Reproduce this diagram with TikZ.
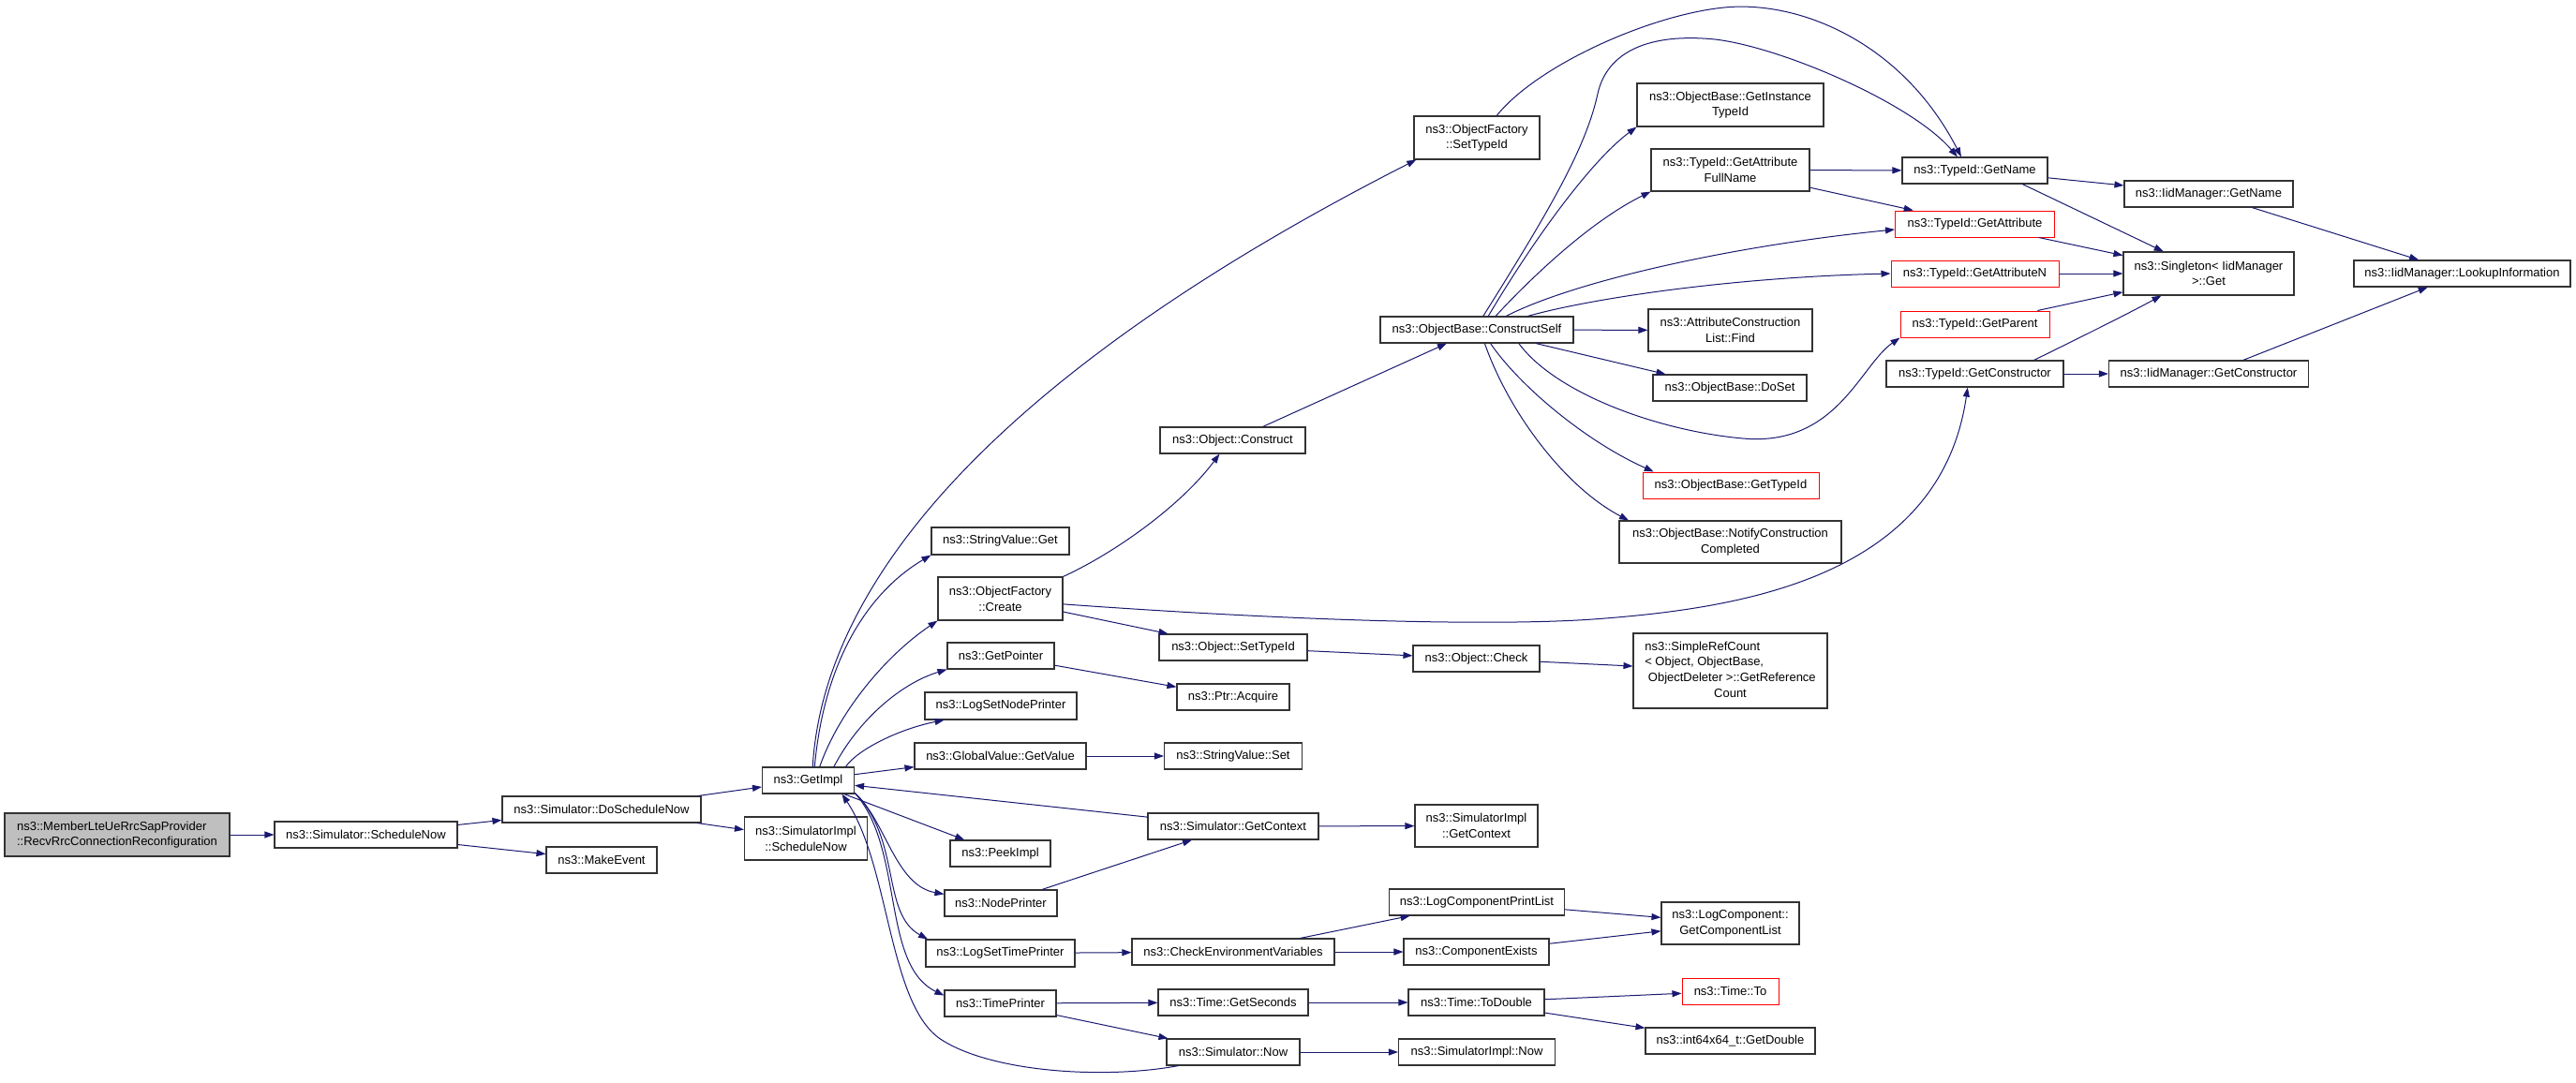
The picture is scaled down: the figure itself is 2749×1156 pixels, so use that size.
\documentclass[tikz,border=0pt]{standalone}
\usepackage{fontspec}
\setmainfont{Liberation Sans}
\usetikzlibrary{arrows.meta}
\definecolor{edgeBlue}{RGB}{25,25,112}
\definecolor{rootGray}{RGB}{191,191,191}
\definecolor{frameRed}{RGB}{255,0,0}
\newcommand{\fnfont}{\fontsize{13}{16.7}\selectfont}

\begin{document}
\begin{tikzpicture}[x=1pt,y=-1pt,
    fn/.style={draw=black!80,line width=1.1pt,fill=white,inner sep=0pt,
               minimum height=28pt,font=\fnfont,align=center},
    fnred/.style={fn,draw=frameRed,line width=1pt},
    fnroot/.style={fn,fill=rootGray,align=left},
    call/.style={draw=edgeBlue,line width=1pt,-{Triangle[length=10pt,width=7pt]}}
]
\fill[white] (0,0) rectangle (2749,1156);
\useasboundingbox (0,0) rectangle (2749,1156);

% caller chain
\node[fnroot,minimum width=240pt,minimum height=46pt] (root) at (125,891) {ns3::MemberLteUeRrcSapProvider\\::RecvRrcConnectionReconfiguration};
\node[fn,minimum width=195pt] (sched) at (390.5,891) {ns3::Simulator::ScheduleNow};
\node[fn,minimum width=212pt] (dosched) at (642,864) {ns3::Simulator::DoScheduleNow};
\node[fn,minimum width=118pt] (makeev) at (642,918) {ns3::MakeEvent};
\node[fn,minimum width=98pt] (getimpl) at (862.5,833) {ns3::GetImpl};
\node[fn,minimum width=131pt,minimum height=46pt] (simsched) at (860,895) {ns3::SimulatorImpl\\::ScheduleNow};

% column of GetImpl callees
\node[fn,minimum width=147pt,minimum height=29pt] (svget) at (1067.5,577.5) {ns3::StringValue::Get};
\node[fn,minimum width=133pt,minimum height=46pt] (ofcreate) at (1067.5,639) {ns3::ObjectFactory\\::Create};
\node[fn,minimum width=114pt] (getptr) at (1068,700) {ns3::GetPointer};
\node[fn,minimum width=162pt,minimum height=29pt] (lognode) at (1068,753.5) {ns3::LogSetNodePrinter};
\node[fn,minimum width=183pt] (gvget) at (1067.5,807) {ns3::GlobalValue::GetValue};
\node[fn,minimum width=107pt] (peek) at (1067.5,911) {ns3::PeekImpl};
\node[fn,minimum width=120pt] (nodepr) at (1068,964) {ns3::NodePrinter};
\node[fn,minimum width=159pt,minimum height=29pt] (logtime) at (1067.5,1017.5) {ns3::LogSetTimePrinter};
\node[fn,minimum width=119pt] (timepr) at (1067.5,1071) {ns3::TimePrinter};

\node[fn,minimum width=155pt] (construct) at (1315.5,470) {ns3::Object::Construct};
\node[fn,minimum width=158pt] (objsettid) at (1316,691) {ns3::Object::SetTypeId};
\node[fn,minimum width=120pt] (ptracq) at (1316,744) {ns3::Ptr::Acquire};
\node[fn,minimum width=147pt] (svset) at (1316,807) {ns3::StringValue::Set};
\node[fn,minimum width=182pt] (simctx) at (1316,882) {ns3::Simulator::GetContext};
\node[fn,minimum width=216pt] (checkenv) at (1316,1016) {ns3::CheckEnvironmentVariables};
\node[fn,minimum width=160pt] (getsec) at (1316,1070) {ns3::Time::GetSeconds};
\node[fn,minimum width=142pt] (simnow) at (1316,1123) {ns3::Simulator::Now};

\node[fn,minimum width=134pt,minimum height=46pt] (ofsettid) at (1576,147) {ns3::ObjectFactory\\::SetTypeId};
\node[fn,minimum width=206pt] (cself) at (1576,352) {ns3::ObjectBase::ConstructSelf};
\node[fn,minimum width=135pt] (objcheck) at (1575.5,703) {ns3::Object::Check};
\node[fn,minimum width=131pt,minimum height=45pt] (implctx) at (1575.5,881.5) {ns3::SimulatorImpl\\::GetContext};
\node[fn,minimum width=187pt] (logprint) at (1576,963) {ns3::LogComponentPrintList};
\node[fn,minimum width=155pt] (compex) at (1575.5,1016) {ns3::ComponentExists};
\node[fn,minimum width=145pt] (todbl) at (1575.5,1070) {ns3::Time::ToDouble};
\node[fn,minimum width=167pt] (implnow) at (1576,1123) {ns3::SimulatorImpl::Now};

\node[fn,minimum width=199pt,minimum height=46pt] (instid) at (1846.5,112) {ns3::ObjectBase::GetInstance\\TypeId};
\node[fn,minimum width=169pt,minimum height=45pt] (attrfull) at (1846.5,181.5) {ns3::TypeId::GetAttribute\\FullName};
\node[fn,minimum width=175pt,minimum height=45pt] (acfind) at (1846.5,352.5) {ns3::AttributeConstruction\\List::Find};
\node[fn,minimum width=164pt] (doset) at (1846,414) {ns3::ObjectBase::DoSet};
\node[fnred,minimum width=188pt] (obtid) at (1847,518) {ns3::ObjectBase::GetTypeId};
\node[fn,minimum width=237pt,minimum height=45pt] (notify) at (1846.5,578.5) {ns3::ObjectBase::NotifyConstruction\\Completed};
\node[fn,minimum width=207pt,minimum height=80pt] (srefcount) at (1846.5,716) {\begin{tabular}{@{}l@{}}ns3::SimpleRefCount\\{<} Object, ObjectBase,\\\ ObjectDeleter {>}::GetReference\\\multicolumn{1}{@{}c@{}}{Count}\end{tabular}};
\node[fn,minimum width=147pt,minimum height=45pt] (complist) at (1846.5,985.5) {ns3::LogComponent::\\GetComponentList};
\node[fnred,minimum width=103pt] (timeto) at (1846.5,1058) {ns3::Time::To};
\node[fn,minimum width=181pt] (getdbl) at (1846.5,1111) {ns3::int64x64\_t::GetDouble};

\node[fn,minimum width=155pt] (tidname) at (2107.5,182) {ns3::TypeId::GetName};
\node[fnred,minimum width=170pt] (tidattr) at (2107.5,239) {ns3::TypeId::GetAttribute};
\node[fnred,minimum width=179pt] (tidattrn) at (2107.5,292) {ns3::TypeId::GetAttributeN};
\node[fnred,minimum width=159pt] (tidparent) at (2107.5,346) {ns3::TypeId::GetParent};
\node[fn,minimum width=189pt] (tidctor) at (2107.5,399) {ns3::TypeId::GetConstructor};

\node[fn,minimum width=180pt] (iidname) at (2357,207) {ns3::IidManager::GetName};
\node[fn,minimum width=182pt,minimum height=46pt] (singleton) at (2357,292) {ns3::Singleton{<} IidManager\\{>}::Get};
\node[fn,minimum width=213pt] (iidctor) at (2357,399) {ns3::IidManager::GetConstructor};
\node[fn,minimum width=231pt] (lookup) at (2627.5,292) {ns3::IidManager::LookupInformation};

% calls
\draw[call] (root) -- (sched);
\draw[call] (sched) -- (dosched);
\draw[call] (sched) -- (makeev);
\draw[call] (dosched) -- (getimpl);
\draw[call] (dosched) -- (simsched);
\draw[call] (getimpl.72) .. controls (880,600) and (1100,380) .. (ofsettid.200);
\draw[call] (getimpl.65) .. controls (880,700) and (930,630) .. (svget.south west);
\draw[call] (getimpl.50) .. controls (895,760) and (945,700) .. (ofcreate.south west);
\draw[call] (getimpl.28) .. controls (915,770) and (960,730) .. (getptr.south west);
\draw[call] (getimpl.20) .. controls (915,800) and (960,778) .. (lognode.194);
\draw[call] (getimpl) -- (gvget);
\draw[call] (getimpl) -- (peek);
\draw[call] (getimpl.-15) .. controls (945,875) and (955,945) .. (nodepr.171);
\draw[call] (getimpl.-15) .. controls (962,895) and (940,975) .. (logtime.169);
\draw[call] (getimpl.-15) .. controls (965,905) and (940,1030) .. (timepr.172);

\draw[call] (ofcreate.north east) .. controls (1190,590) and (1260,540) .. (construct.226);
\draw[call] (ofcreate) -- (objsettid);
\draw[call] (ofcreate.-5) .. controls (1400,664) and (1600,668) .. (1700,661)
    .. controls (1850,650) and (2070,620) .. (tidctor.242);
\draw[call] (construct) -- (cself);
\draw[call] (objsettid) -- (objcheck);
\draw[call] (objcheck) -- (srefcount);
\draw[call] (getptr) -- (ptracq);
\draw[call] (gvget) -- (svset);
\draw[call] (simctx) -- (getimpl);
\draw[call] (nodepr) -- (simctx);
\draw[call] (simctx) -- (implctx);
\draw[call] (logtime) -- (checkenv);
\draw[call] (checkenv) -- (logprint);
\draw[call] (checkenv) -- (compex);
\draw[call] (logprint) -- (complist);
\draw[call] (compex) -- (complist);
\draw[call] (timepr) -- (getsec);
\draw[call] (timepr) -- (simnow);
\draw[call] (getsec) -- (todbl);
\draw[call] (todbl) -- (timeto);
\draw[call] (todbl) -- (getdbl);
\draw[call] (simnow) -- (implnow);
\draw[call] (simnow.194) .. controls (1180,1152) and (1060,1145) .. (1005,1110)
    .. controls (948,1074) and (950,925) .. (getimpl.-22);

\draw[call] (ofsettid.48) .. controls (1640,70) and (1760,16) .. (1840,8)
    .. controls (1920,0) and (2030,45) .. (tidname.135);
\draw[call] (cself.65) .. controls (1650,230) and (1692,160) .. (1705,100)
    .. controls (1715,55) and (1760,35) .. (1830,42)
    .. controls (1900,50) and (2040,110) .. (tidname.142);
\draw[call] (cself.50) .. controls (1640,250) and (1700,170) .. (instid.south west);
\draw[call] (cself.36) .. controls (1640,290) and (1700,235) .. (attrfull.south west);
\draw[call] (cself.25) .. controls (1680,300) and (1850,262) .. (tidattr.184);
\draw[call] (cself.15) .. controls (1700,318) and (1850,296) .. (tidattrn.west);
\draw[call] (cself) -- (acfind);
\draw[call] (cself.-13) -- (doset.168);
\draw[call] (cself.-18) .. controls (1660,420) and (1770,460) .. (1860,468)
    .. controls (1960,477) and (1985,390) .. (tidparent.south west);
\draw[call] (cself.-45) .. controls (1620,410) and (1690,470) .. (obtid.170);
\draw[call] (cself.-60) .. controls (1610,440) and (1670,520) .. (notify.168);

\draw[call] (attrfull) -- (tidname);
\draw[call] (attrfull) -- (tidattr);
\draw[call] (tidname) -- (iidname);
\draw[call] (tidname.-16) -- (singleton.154);
\draw[call] (tidattr) -- (singleton);
\draw[call] (tidattrn) -- (singleton);
\draw[call] (tidparent) -- (singleton);
\draw[call] (tidctor.13) .. controls (2210,365) and (2265,338) .. (singleton.205);
\draw[call] (tidctor) -- (iidctor);
\draw[call] (iidname) -- (lookup);
\draw[call] (iidctor) -- (lookup);
\end{tikzpicture}
\end{document}
